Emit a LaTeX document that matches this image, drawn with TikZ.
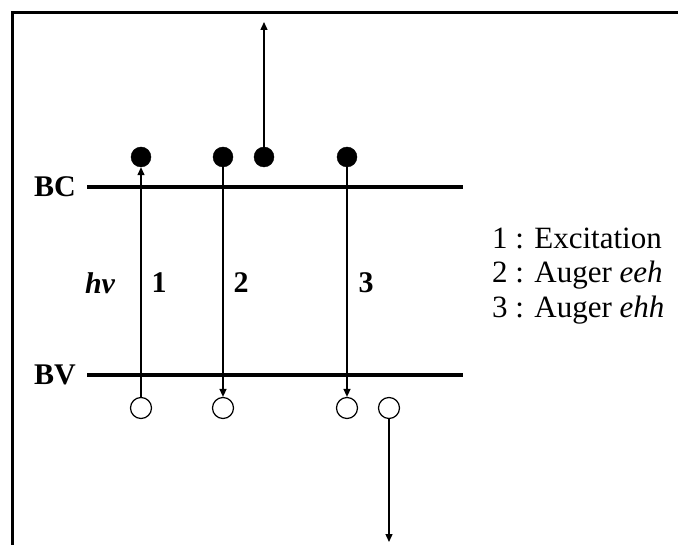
\documentclass[tikz,border=0pt]{standalone}
\usepackage{fontspec}
\setmainfont{Liberation Serif}
\usetikzlibrary{arrows.meta, positioning}

\begin{document}
\begin{tikzpicture}[
  x = 1pt, y = -1pt,
  font = \fontsize{31}{34.5}\selectfont,
  %
  % ── Styles ──────────────────────────────────────────────────────
  electron/.style = {circle, draw, fill=black, minimum size=20pt,
                     inner sep=0pt},
  hole/.style     = {circle, draw, fill=white, line width=1.2pt,
                     minimum size=21pt, inner sep=0pt},
  band/.style     = {line width=3.5pt},
  arrow/.style    = {-{Triangle[length=8pt, width=7pt]}, line width=1.4pt},
  bandname/.style = {left, font=\fontsize{30}{34}\selectfont\bfseries,
                     inner sep=0pt, xshift=-11pt},
  num/.style      = {font=\fontsize{30}{34}\selectfont\bfseries},
]

\useasboundingbox (0,0) rectangle (678,545);
\clip (0,0) rectangle (678,545);

%% ── Frame (open to the right and bottom) ─────────────────────────
\draw[line width=3pt] (12,580) -- (12,13) -- (720,13);

%% ═══════════════════════════════════════════════════════════════
%% Bands
%% ═══════════════════════════════════════════════════════════════
\coordinate (bc-l) at (87,187);
\coordinate (bc-r) at (463,187);
\coordinate (bv-l) at (87,375);
\coordinate (bv-r) at (463,375);

\draw[band] (bc-l) -- (bc-r);
\draw[band] (bv-l) -- (bv-r);

\node[bandname] (bc) at (bc-l) {BC};
\node[bandname] (bv) at (bv-l) {BV};

%% ═══════════════════════════════════════════════════════════════
%% Carriers
%% ═══════════════════════════════════════════════════════════════
\node[electron] (e1) at (141,157) {};
\node[electron] (e2) at (223,157) {};
\node[electron] (e3) at (264,157) {};
\node[electron] (e4) at (347,157) {};

\node[hole] (h1) at (141,408) {};
\node[hole] (h2) at (223,408) {};
\node[hole] (h3) at (347,408) {};
\node[hole] (h4) at (389,408) {};

% free ends of the escaping carriers
\coordinate (e-out) at (264,22);
\coordinate (h-out) at (389,542);

%% ── Arrows ───────────────────────────────────────────────────────
\draw[arrow] (h1) -- (e1);
\draw[arrow] (e2) -- (h2);
\draw[arrow] (e4) -- (h3);
\draw[arrow] (e3) -- (e-out);
\draw[arrow] (h4) -- (h-out);

%% ── Transition labels ────────────────────────────────────────────
\node[num, font=\fontsize{30}{34}\selectfont\bfseries\itshape]
  (hnu) at (100,283) {hν};
\node[num] (n1) at (159,283) {1};
\node[num] (n2) at (241,283) {2};
\node[num] (n3) at (366,283) {3};

%% ── Legend ───────────────────────────────────────────────────────
\node[anchor=west, align=left, inner sep=0pt] (legend) at (492,276)
  {1 : Excitation\\
   2 : Auger \textit{eeh}\\
   3 : Auger \textit{ehh}};

\end{tikzpicture}
\end{document}
